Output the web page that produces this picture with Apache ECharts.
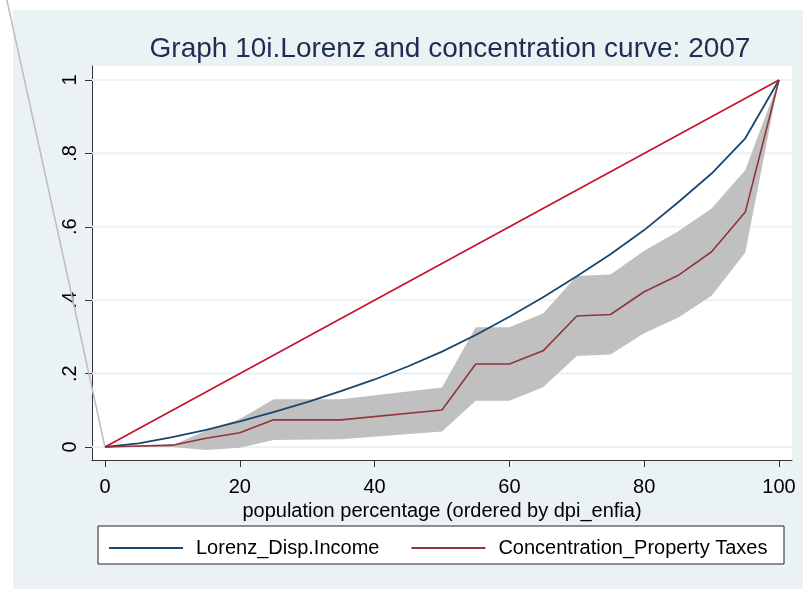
<!DOCTYPE html>
<html>
<head>
<meta charset="utf-8">
<script src="https://cdn.jsdelivr.net/npm/echarts@6/dist/echarts.min.js"></script>
<style>
html,body{margin:0;padding:0;background:#fff;}
#chart{width:803px;height:589px;}
</style>
</head>
<body>
<div id="chart"></div>
<script>
// ---- data ----
const titleText = 'Graph 10i.Lorenz and concentration curve: 2007';
const xAxisTitle = 'population percentage (ordered by dpi_enfia)';
const xTicks = [0, 20, 40, 60, 80, 100];
const xTickLabels = ['0', '20', '40', '60', '80', '100'];
const yTicks = [0, 0.2, 0.4, 0.6, 0.8, 1];
const yTickLabels = ['0', '.2', '.4', '.6', '.8', '1'];

const lorenzName = 'Lorenz_Disp.Income';
const lorenzX = [0, 5, 10, 15, 20, 25, 30, 35, 40, 45, 50, 55, 60, 65, 70, 75, 80, 85, 90, 95, 100];
const lorenzY = [0, 0.010, 0.027, 0.047, 0.070, 0.095, 0.122, 0.152, 0.184, 0.220, 0.260, 0.305, 0.355, 0.408, 0.465, 0.525, 0.591, 0.666, 0.745, 0.841, 1];

const concName = 'Concentration_Property Taxes';
const concX = [0, 10, 15, 20, 25, 35, 50, 55, 60, 65, 70, 75, 80, 85, 90, 95, 100];
const concY = [0, 0.005, 0.024, 0.039, 0.074, 0.074, 0.101, 0.226, 0.226, 0.262, 0.357, 0.361, 0.423, 0.467, 0.532, 0.640, 1];
const ciUpper = [0, 0.005, 0.045, 0.076, 0.130, 0.130, 0.162, 0.326, 0.326, 0.364, 0.466, 0.470, 0.535, 0.587, 0.650, 0.755, 1];
const ciLower = [0, 0.000, -0.008, -0.002, 0.019, 0.021, 0.042, 0.126, 0.126, 0.163, 0.248, 0.252, 0.310, 0.352, 0.412, 0.530, 1];

const equalityX = [0, 100];
const equalityY = [0, 1];

// stray band edge that runs off the plot to the upper left
const strayX = [0, -15.2];
const strayY = [0, 1.272];

// ---- helpers ----
const zip = (xs, ys) => xs.map((x, i) => [x, ys[i]]);
const FONT = '"Liberation Sans", Arial, sans-serif';

const chart = echarts.init(document.getElementById('chart'), null, {renderer: 'canvas'});

const option = {
  animation: false,
  backgroundColor: '#ffffff',
  textStyle: {fontFamily: FONT},
  graphic: [
    {type: 'rect', z: -10, silent: true, shape: {x: 13, y: 10, width: 790, height: 579}, style: {fill: '#eaf2f3'}},
    {type: 'rect', z: 0, silent: true, shape: {x: 98, y: 526, width: 686, height: 38}, style: {fill: '#ffffff', stroke: '#222', lineWidth: 1}}
  ],
  title: {
    text: titleText,
    left: 445,
    top: 30,
    textAlign: 'center',
    textStyle: {fontFamily: FONT, fontSize: 28, fontWeight: 'normal', color: '#1e2d53'}
  },
  grid: {
    left: 92, right: 11, top: 66, bottom: 129,
    show: true, backgroundColor: '#ffffff', borderWidth: 0,
    containLabel: false
  },
  legend: {
    data: [lorenzName, concName],
    left: 103, top: 533,
    itemWidth: 74, itemHeight: 14, itemGap: 31,
    itemStyle: {opacity: 0},
    textStyle: {fontFamily: FONT, fontSize: 20, color: '#000', padding: [0, 0, 0, 8]},
    z: 5
  },
  xAxis: {
    type: 'value', min: -1.929, max: 101.93,
    name: xAxisTitle, nameLocation: 'middle', nameGap: 37,
    nameTextStyle: {fontFamily: FONT, fontSize: 20, color: '#000'},
    axisLine: {show: true, onZero: false, lineStyle: {color: '#333', width: 1}},
    axisTick: {show: true, length: 7, customValues: xTicks, lineStyle: {color: '#333'}},
    axisLabel: {customValues: xTicks, fontSize: 20, color: '#000', margin: 17, fontFamily: FONT,
      formatter: v => xTickLabels[xTicks.indexOf(v)]},
    splitLine: {show: false}
  },
  yAxis: {
    type: 'value', min: -0.0354, max: 1.038,
    axisLine: {show: true, onZero: false, lineStyle: {color: '#333', width: 1}},
    axisTick: {show: true, length: 7, customValues: yTicks, lineStyle: {color: '#333'}},
    axisLabel: {customValues: yTicks, rotate: 90, fontSize: 20, color: '#000', margin: 12, fontFamily: FONT,
      formatter: v => {
        const i = yTicks.findIndex(t => Math.abs(t - v) < 1e-9);
        return i >= 0 ? yTickLabels[i] : '';
      }},
    splitLine: {show: false}
  },
  series: [
    {
      name: 'gridlines', type: 'custom', z: 1, silent: true,
      data: yTicks.map(v => [0, v]),
      encode: {x: 0, y: 1},
      renderItem: function (params, api) {
        const cs = params.coordSys;
        const p = api.coord([0, api.value(1)]);
        return {type: 'line', shape: {x1: cs.x, y1: p[1], x2: cs.x + cs.width, y2: p[1]},
          style: {stroke: '#eaf2f3', lineWidth: 2}};
      }
    },
    {
      name: 'stray', type: 'custom', z: 1, silent: true, clip: false,
      data: zip(strayX, strayY),
      encode: {x: 0, y: 1},
      renderItem: function (params, api) {
        if (params.dataIndex !== 0) return null;
        const pts = strayX.map((x, i) => api.coord([x, strayY[i]]));
        return {type: 'polyline', shape: {points: pts}, style: {stroke: '#bdbdbd', lineWidth: 1.5, fill: null}};
      }
    },
    {
      name: 'ci', type: 'custom', z: 2, silent: true,
      data: concX.map((x, i) => [x, ciLower[i], ciUpper[i]]),
      encode: {x: 0, y: [1, 2]},
      renderItem: function (params, api) {
        if (params.dataIndex !== 0) return null;
        const up = concX.map((x, i) => api.coord([x, ciUpper[i]]));
        const lo = concX.map((x, i) => api.coord([x, ciLower[i]])).reverse();
        return {type: 'polygon', shape: {points: up.concat(lo)}, style: {fill: '#c0c0c0', stroke: null}};
      }
    },
    {
      name: 'equality', type: 'line', z: 3, silent: true,
      data: zip(equalityX, equalityY), symbol: 'none',
      lineStyle: {color: '#c8102e', width: 1.6}
    },
    {
      name: lorenzName, type: 'line', z: 4,
      data: zip(lorenzX, lorenzY), symbol: 'none', smooth: false,
      itemStyle: {color: '#1a476f'},
      lineStyle: {color: '#1a476f', width: 1.8}
    },
    {
      name: concName, type: 'line', z: 4,
      data: zip(concX, concY), symbol: 'none',
      itemStyle: {color: '#90353b'},
      lineStyle: {color: '#90353b', width: 1.6}
    }
  ]
};
chart.setOption(option);
</script>
</body>
</html>
